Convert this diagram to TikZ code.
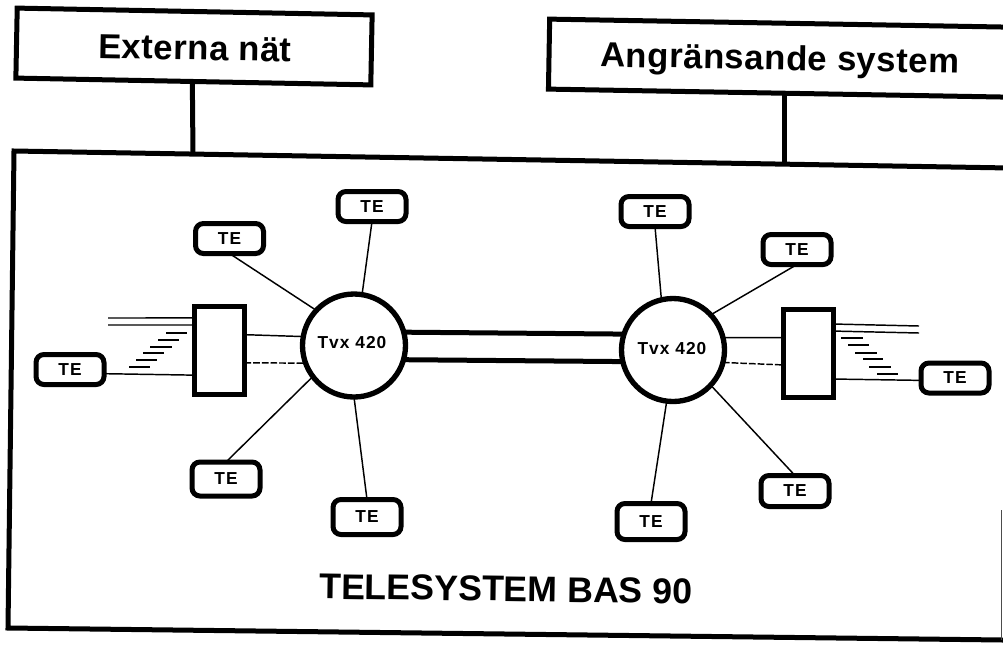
\documentclass[tikz,border=0pt]{standalone}
\usepackage{fontspec}
\setmainfont{Liberation Sans}
\newfontfamily\spacedfont[LetterSpace=6]{Liberation Sans}
\newfontfamily\headfont[LetterSpace=1.5]{Liberation Sans}
\usetikzlibrary{calc}
\tikzset{
  x=0.75pt, y=-0.75pt,
  heavy/.style={line width=3.75pt, line cap=round, line join=miter},
  thinlink/.style={line width=1.1pt},
  tick/.style={line width=1pt},
  headbox/.style={draw, line width=3.75pt, rotate=-1.1, inner sep=0pt, fill=white,
    minimum width=#1*0.75pt, minimum height=52.5pt, outer sep=0pt},
  headtext/.style={font=\headfont\bfseries\fontsize{26}{30}\selectfont, inner sep=0pt, rotate=-1.05},
  tebox/.style={draw, line width=3.75pt, rounded corners=6pt, inner sep=0pt, outer sep=0pt, fill=white,
    minimum width=51pt, minimum height=#1*0.75pt,
    font=\spacedfont\bfseries\fontsize{13}{15}\selectfont},
  hub/.style={circle, draw, line width=4pt, inner sep=0pt, outer sep=0pt, fill=white,
    minimum size=77.25pt, font=\spacedfont\bfseries\fontsize{13}{15}\selectfont},
  slot/.style={draw, line width=3.75pt, inner sep=0pt, outer sep=0pt, fill=white,
    minimum width=37.5pt, minimum height=66pt},
}
\begin{document}
\begin{tikzpicture}
\useasboundingbox (0,0) rectangle (1003,644);
\fill[white] (0,0) rectangle (1003,644);

% outer frame
\coordinate (fTR) at (1010,168);
\coordinate (fTL) at (14,151);
\coordinate (fBL) at (8,628);
\coordinate (fBR) at (1003,640);
\coordinate (fRt) at (1001,510);
\coordinate (fRb) at (1001,640);
\draw[heavy] (fTR) -- (fTL) -- (fBL) -- (fBR);
\draw[line width=0.6pt, black!70] (fRt) -- (fRb);

% header boxes
\node[headbox=355] (ext) at (194,46.5) {};
\node[headtext] (extlabel) at (195,48) {Externa nät};
\node[headbox=560, rotate=0.1] (ang) at (829,59) {};
\node[headtext] (anglabel) at (780,61) {Angränsande system};
\coordinate (extdrop) at (193,155);
\coordinate (angtop) at (784,93);
\coordinate (angdrop) at (784,163);
\draw[heavy, line cap=butt] (ext.south) ++(-1,0) -- (extdrop);
\draw[heavy, line cap=butt] (angtop) -- (angdrop);

% exchanges
\node[hub] (c1) at (354,345.5) {};
\node[hub] (c2) at (673,350) {};
\node[font=\spacedfont\bfseries\fontsize{13}{15}\selectfont, inner sep=0pt] (c1t) at (352,343) {Tvx 420};
\node[font=\spacedfont\bfseries\fontsize{13}{15}\selectfont, inner sep=0pt] (c2t) at (672,349) {Tvx 420};

% trunk
\draw[heavy, line cap=butt] (c1.15.6) -- (c2.162);
\draw[heavy, line cap=butt] (c1.-16.7) -- (c2.193);

% line cards
\node[slot] (lb) at (219.5,350.5) {};
\node[slot] (rb) at (808.5,353.5) {};

% terminals
\node[tebox=30] (t1) at (229.5,238.5) {TE};
\node[tebox=30] (t2) at (372,206.5) {TE};
\node[tebox=30] (t3) at (70,369.5) {TE};
\node[tebox=34] (t4) at (226,479) {TE};
\node[tebox=35] (t5) at (367,517) {TE};
\node[tebox=30] (t6) at (655,211.5) {TE};
\node[tebox=30] (t7) at (797,249.5) {TE};
\node[tebox=30] (t8) at (955,378) {TE};
\node[tebox=36] (t9) at (651,521.5) {TE};
\node[tebox=31] (t10) at (795,491) {TE};

% spokes
\draw[thinlink] (t1.south) -- (c1.137);
\draw[thinlink] (t2.south) -- (c1.81);
\draw[thinlink] (t4.north) -- (c1.217);
\draw[thinlink] (t5.north) -- (c1.270);
\draw[thinlink] (t6.south) -- (c2.103);
\draw[thinlink] (t7.south) -- (c2.43);
\draw[thinlink] (t9.north) -- (c2.263);
\draw[thinlink] (t10.north) -- (c2.-43.6);

% card to exchange
\draw[thinlink] ($(lb.north east)!0.32!(lb.south east)$) -- (c1.170.5);
\draw[thinlink, dashed, dash pattern=on 5pt off 1.5pt] ($(lb.north east)!0.64!(lb.south east)$) -- (c1.200);
\draw[thinlink] (c2.14.5) -- ($(rb.north west)!0.32!(rb.south west)$);
\draw[thinlink, dashed, dash pattern=on 5pt off 1.5pt] (c2.-14) -- ($(rb.north west)!0.63!(rb.south west)$);

% lines to the left card
\coordinate (la) at (108,318);
\coordinate (lc) at (108,325);
\draw[thinlink] (la) -- ($(lb.north west)!0.13!(lb.south west)$);
\draw[thinlink] (lc) -- ($(lb.north west)!0.21!(lb.south west)$);
\draw[thinlink] (t3.-7.7) -- ($(lb.north west)!0.78!(lb.south west)$);
\foreach \a/\b/\y in {166/187/333,158/179/340,150/172/347,143/164/353,136/157/360,129/150/367}
  \draw[tick] (\a,\y) -- (\b,\y);

% lines to the right card
\coordinate (ra) at (919,326);
\coordinate (rc) at (919,333);
\draw[thinlink] ($(rb.north east)!0.165!(rb.south east)$) -- (ra);
\draw[thinlink] ($(rb.north east)!0.245!(rb.south east)$) -- (rc);
\draw[thinlink] ($(rb.north east)!0.79!(rb.south east)$) -- (t8.184.6);
\foreach \a/\b/\y in {841/863/338,848/869/345,855/877/353,863/883/359,869/891/367,877/898/374}
  \draw[tick] (\a,\y) -- (\b,\y);

% title
\node[font=\bfseries\fontsize{26.8}{30}\selectfont, inner sep=0pt, rotate=-0.8] (title) at (506,589) {TELESYSTEM BAS 90};
\end{tikzpicture}
\end{document}
